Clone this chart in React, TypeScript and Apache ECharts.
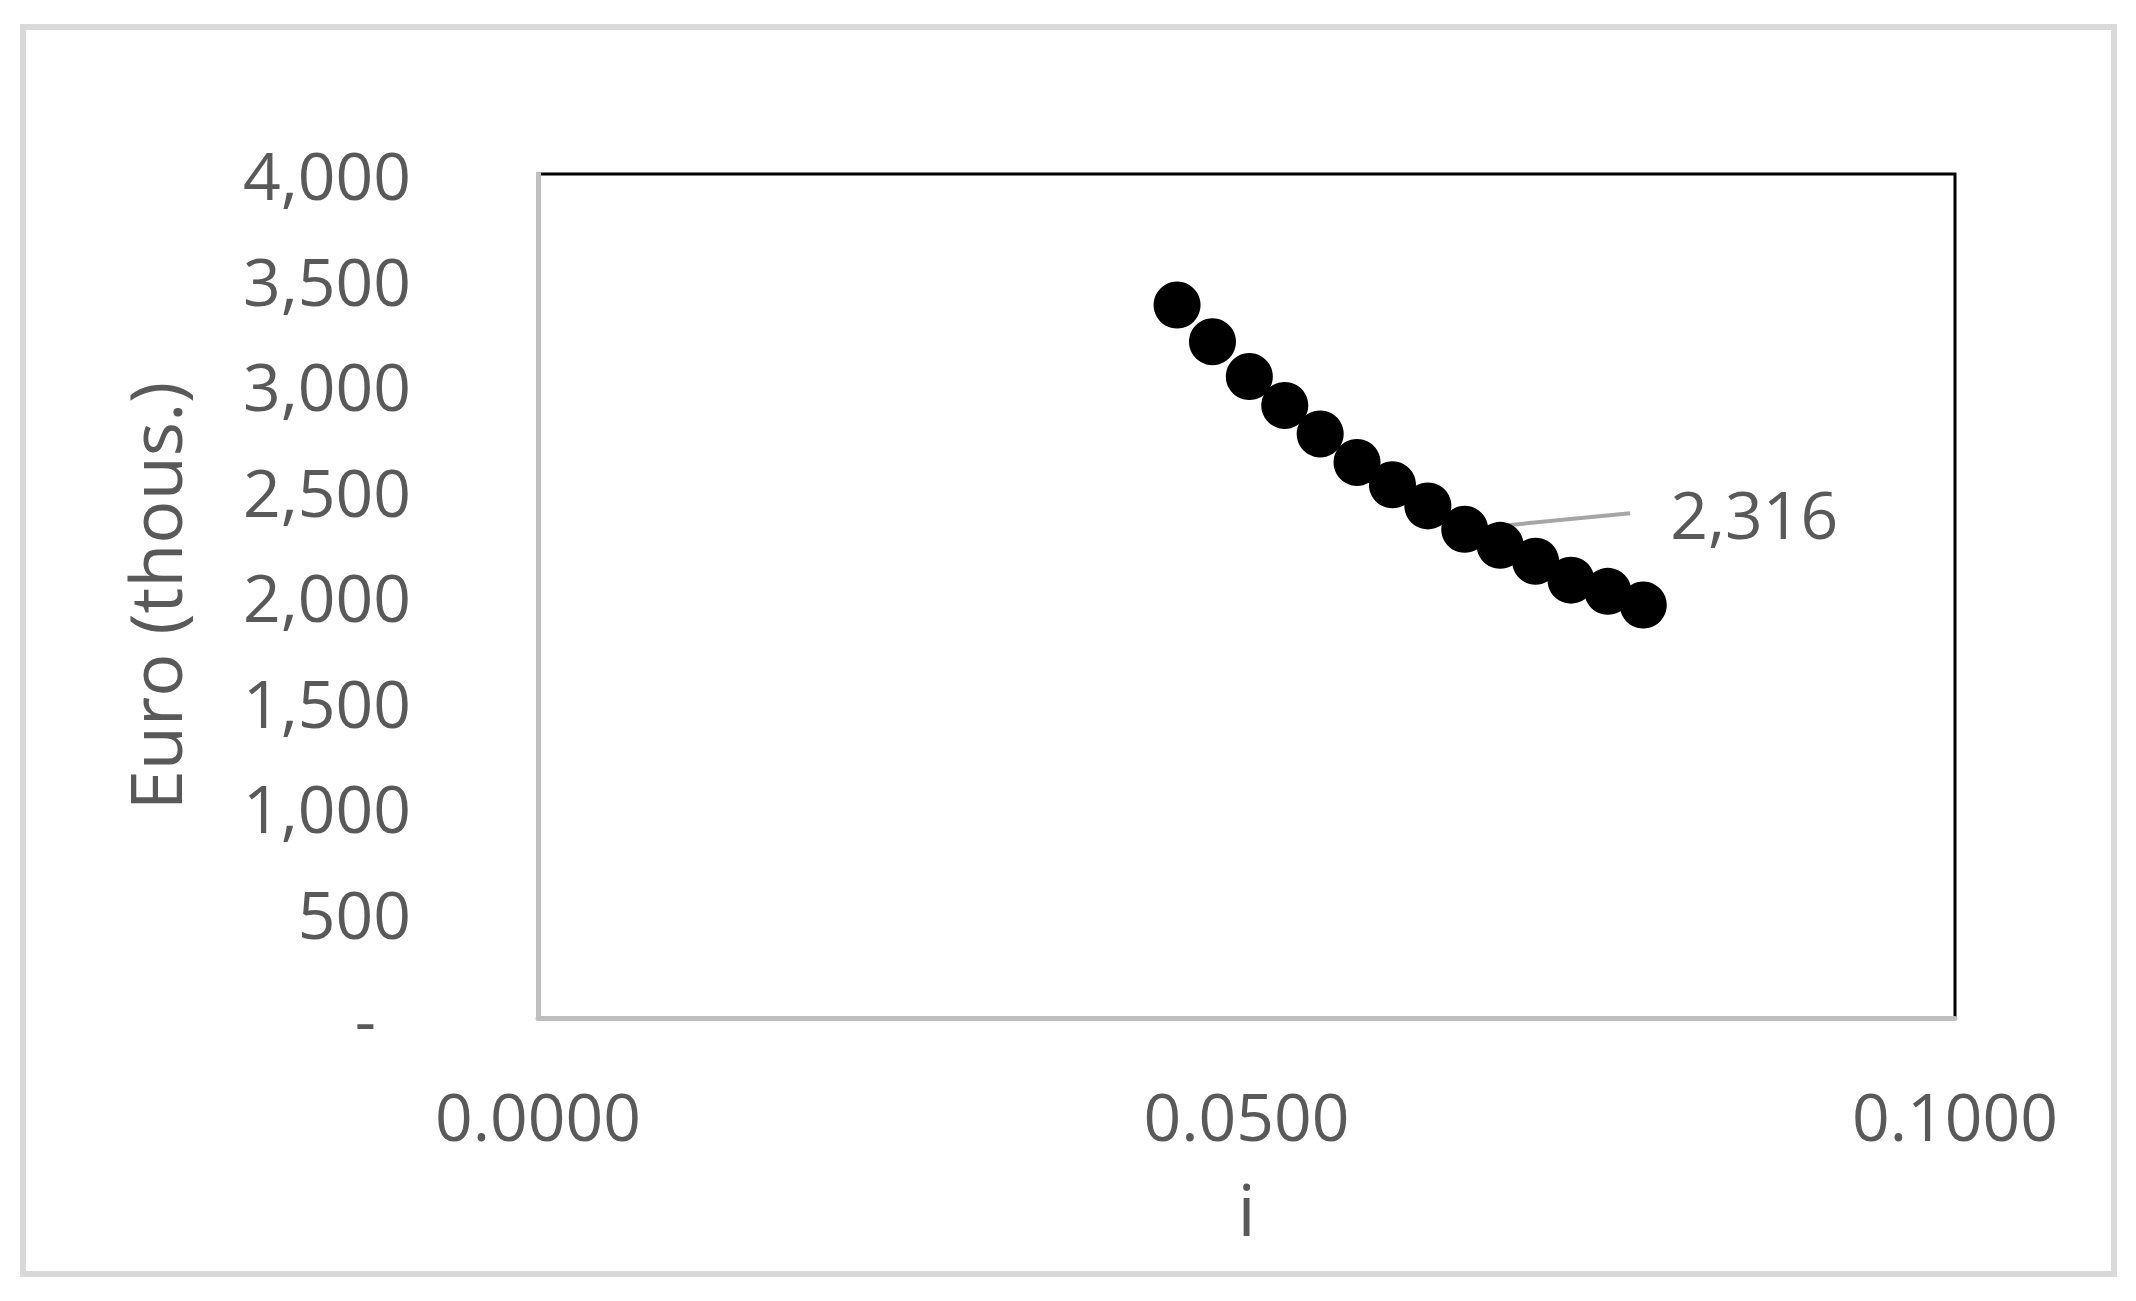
import React, { useEffect, useRef } from 'react';
import * as echarts from 'echarts';

const rates: number[] = [0.0451, 0.0476, 0.0502, 0.0527, 0.0552, 0.0578, 0.0603, 0.0628, 0.0654, 0.0679, 0.0704, 0.0729, 0.0755, 0.078];
const values: number[] = [3379, 3205, 3040, 2903, 2768, 2633, 2527, 2427, 2316, 2240, 2165, 2075, 2022, 1957];
const labelledIndex = 8;
const xTitle = 'i';
const yTitle = 'Euro (thous.)';

const FONT = "'Open Sans', 'Noto Sans', sans-serif";
const GREY_TEXT = '#595959';

export default function App() {
  const ref = useRef<HTMLDivElement>(null);
  useEffect(() => {
    if (!ref.current) return;
    const chart = echarts.init(ref.current, undefined, { renderer: 'svg' });
    const data = rates.map((r, i) =>
      i === labelledIndex
        ? {
            value: [r, values[i]],
            label: {
              show: true,
              position: 'right',
              formatter: (p: any) => '{gap|}{v|' + Number(p.value[1]).toLocaleString('en-US') + '}',
            },
          }
        : { value: [r, values[i]] }
    );
    chart.setOption({
      animation: false,
      backgroundColor: '#ffffff',
      graphic: [
        {
          type: 'rect',
          shape: { x: 23, y: 27, width: 2091, height: 1247 },
          style: { fill: 'none', stroke: '#d9d9d9', lineWidth: 6 },
          z: -1,
        },
      ],
      grid: {
        left: 538,
        top: 174,
        width: 1417,
        height: 844,
        show: true,
        borderColor: '#000000',
        borderWidth: 3,
        backgroundColor: 'transparent',
      },
      xAxis: {
        type: 'value',
        min: 0,
        max: 0.1,
        interval: 0.05,
        name: xTitle,
        nameLocation: 'middle',
        nameGap: 154,
        nameTextStyle: { fontFamily: FONT, fontSize: 72, color: GREY_TEXT },
        axisLine: { show: true, onZero: false, lineStyle: { color: '#bfbfbf', width: 5 } },
        axisTick: { show: false },
        splitLine: { show: false },
        axisLabel: {
          margin: 64,
          fontFamily: FONT,
          fontSize: 66,
          color: GREY_TEXT,
          formatter: (v: number) => v.toFixed(4),
        },
      },
      yAxis: {
        type: 'value',
        min: 0,
        max: 4000,
        interval: 500,
        name: yTitle,
        nameLocation: 'middle',
        nameGap: 348,
        nameTextStyle: { fontFamily: FONT, fontSize: 72, color: GREY_TEXT },
        axisLine: { show: true, onZero: false, lineStyle: { color: '#bfbfbf', width: 5 } },
        axisTick: { show: false },
        splitLine: { show: false },
        axisLabel: {
          margin: 127,
          fontFamily: FONT,
          fontSize: 66,
          color: GREY_TEXT,
          formatter: (v: number) => (v === 0 ? '{dash|-}' : v.toLocaleString('en-US')),
          rich: {
            dash: { fontFamily: FONT, fontSize: 66, color: GREY_TEXT, padding: [0, 35, 0, 0] },
          },
        },
      },
      series: [
        {
          type: 'scatter',
          data,
          symbol: 'circle',
          symbolSize: 47,
          itemStyle: { color: '#000000', opacity: 1 },
          label: {
            show: false,
            fontFamily: FONT,
            fontSize: 66,
            color: GREY_TEXT,
            rich: {
              gap: { width: 40 },
              v: { fontFamily: FONT, fontSize: 66, color: GREY_TEXT },
            },
          },
          labelLayout: { dx: 137, dy: -16 },
          labelLine: {
            show: true,
            lineStyle: { color: '#a6a6a6', width: 4, opacity: 1 },
          },
          emphasis: { disabled: true },
        },
      ],
    });
    return () => chart.dispose();
  }, []);
  return (
    <div
      ref={ref}
      style={{ position: 'absolute', left: 0, top: 0, width: 2136, height: 1301 }}
    />
  );
}
